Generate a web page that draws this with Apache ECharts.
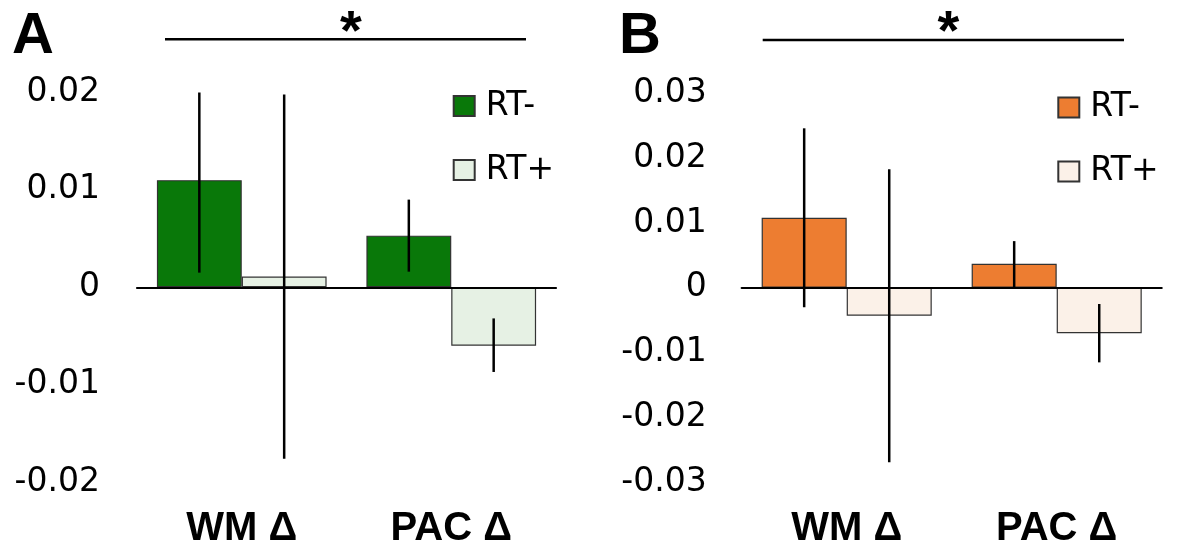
<!DOCTYPE html>
<html>
<head>
<meta charset="utf-8">
<script src="https://cdn.jsdelivr.net/npm/echarts@6/dist/echarts.min.js"></script>
<style>
html,body{margin:0;padding:0;background:#fff;}
#a{position:absolute;left:0;top:0;width:589px;height:555px;}
#b{position:absolute;left:589px;top:0;width:589px;height:555px;}
</style>
</head>
<body>
<div id="a"></div>
<div id="b"></div>
<script>
// ---- data ----
const categories = ['WM Δ', 'PAC Δ'];
const seriesNames = ['RT-', 'RT+'];

// Panel A
const aMinus = [0.0110, 0.0053];
const aPlus = [0.0011, -0.0060];
const aMinusLow = [0.0015, 0.0016];
const aMinusHigh = [0.0200, 0.0090];
const aPlusLow = [-0.0176, -0.0087];
const aPlusHigh = [0.0198, -0.0032];
const aTicks = [-0.02, -0.01, 0, 0.01, 0.02];

// Panel B
const bMinus = [0.0108, 0.0037];
const bPlus = [-0.0043, -0.0070];
const bMinusLow = [-0.0030, 0.0000];
const bMinusHigh = [0.0246, 0.0072];
const bPlusLow = [-0.0269, -0.0115];
const bPlusHigh = [0.0183, -0.0025];
const bTicks = [-0.03, -0.02, -0.01, 0, 0.01, 0.02, 0.03];

function fmt(v) {
  if (Math.abs(v) < 1e-9) return '0';
  return v.toFixed(2);
}

function errSeries(lows, highs, offsetFrac) {
  return {
    type: 'custom',
    xAxisIndex: 0, yAxisIndex: 0,
    z: 5,
    silent: true,
    data: lows.map((l, i) => [i, l, highs[i]]),
    encode: { x: 0, y: [1, 2] },
    renderItem: function (params, api) {
      const cat = api.value(0);
      const band = api.size([1, 0])[0];
      const off = offsetFrac * band;
      const p1 = api.coord([cat, api.value(2)]);
      const p2 = api.coord([cat, api.value(1)]);
      return {
        type: 'line',
        shape: { x1: p1[0] + off, y1: p1[1], x2: p1[0] + off, y2: p2[1] },
        style: { stroke: '#000', lineWidth: 2.5 }
      };
    }
  };
}

function buildOption(cfg) {
  const barFrac = (1 - 0.19) / 2;
  return {
    animation: false,
    backgroundColor: '#fff',
    grid: { left: cfg.gridLeft, top: cfg.gridTop, width: cfg.gridWidth, height: cfg.gridHeight },
    legend: {
      orient: 'vertical',
      left: cfg.legendLeft, top: cfg.legendTop,
      padding: 0,
      itemWidth: 21, itemHeight: 20,
      itemGap: 30,
      icon: 'rect',
      textStyle: { fontFamily: 'DejaVu Sans', fontSize: 33, lineHeight: 34, color: '#000', padding: [0, 0, 0, 6] },
      data: seriesNames
    },
    xAxis: [
      {
        type: 'category', data: categories, position: 'bottom',
        axisLine: { onZero: true, lineStyle: { color: '#000', width: 2.2 } },
        axisTick: { show: false }, axisLabel: { show: false }, z: 10
      },
      {
        type: 'category', data: categories, position: 'bottom',
        axisLine: { show: false, onZero: false }, axisTick: { show: false },
        axisLabel: { fontFamily: 'Liberation Sans', fontWeight: 'bold', fontSize: 40, color: '#000', margin: 27 }
      }
    ],
    yAxis: {
      type: 'value', min: cfg.ticks[0], max: cfg.ticks[cfg.ticks.length - 1], interval: 0.01,
      axisLine: { show: false }, axisTick: { show: false }, splitLine: { show: false },
      axisLabel: { fontFamily: 'DejaVu Sans', fontSize: 33, color: '#000', margin: cfg.labelMargin, formatter: fmt }
    },
    series: [
      {
        name: seriesNames[0], type: 'bar', data: cfg.minus,
        barCategoryGap: '19%', barGap: '0%',
        itemStyle: { color: cfg.dark, borderColor: '#333', borderWidth: 1.2 }
      },
      {
        name: seriesNames[1], type: 'bar', data: cfg.plus,
        barCategoryGap: '19%', barGap: '0%',
        itemStyle: { color: cfg.light, borderColor: '#333', borderWidth: 1.2 }
      },
      errSeries(cfg.minusLow, cfg.minusHigh, -barFrac / 2),
      errSeries(cfg.plusLow, cfg.plusHigh, barFrac / 2)
    ],
    graphic: [
      { type: 'text', left: cfg.titleX, top: 8,
        style: { text: cfg.title, font: 'bold 58px "Liberation Sans"', fill: '#000' } },
      { type: 'line', shape: { x1: cfg.sigX1, y1: cfg.sigY, x2: cfg.sigX2, y2: cfg.sigY },
        style: { stroke: '#000', lineWidth: 2.5 } },
      { type: 'text', x: cfg.starX, y: 6,
        style: { text: '*', font: 'bold 56px "Liberation Sans"', fill: '#000', textAlign: 'center', textVerticalAlign: 'top' } }
    ]
  };
}

const chartA = echarts.init(document.getElementById('a'), null, { renderer: 'canvas' });
chartA.setOption(buildOption({
  gridLeft: 137, gridTop: 92.5, gridWidth: 419, gridHeight: 389.5,
  legendLeft: 452.7, legendTop: 89,
  ticks: aTicks, labelMargin: 37,
  minus: aMinus, plus: aPlus,
  minusLow: aMinusLow, minusHigh: aMinusHigh, plusLow: aPlusLow, plusHigh: aPlusHigh,
  dark: '#097809', light: '#e6f1e4',
  title: 'A', titleX: 12,
  sigX1: 165, sigX2: 526, sigY: 39.3, starX: 351
}));

const chartB = echarts.init(document.getElementById('b'), null, { renderer: 'canvas' });
chartB.setOption(buildOption({
  gridLeft: 152.7, gridTop: 93.3, gridWidth: 420, gridHeight: 389,
  legendLeft: 468.3, legendTop: 90.5,
  ticks: bTicks, labelMargin: 35,
  minus: bMinus, plus: bPlus,
  minusLow: bMinusLow, minusHigh: bMinusHigh, plusLow: bPlusLow, plusHigh: bPlusHigh,
  dark: '#ed7d31', light: '#fbf1e8',
  title: 'B', titleX: 30,
  sigX1: 173.7, sigX2: 535, sigY: 40, starX: 359.3
}));
</script>
</body>
</html>
